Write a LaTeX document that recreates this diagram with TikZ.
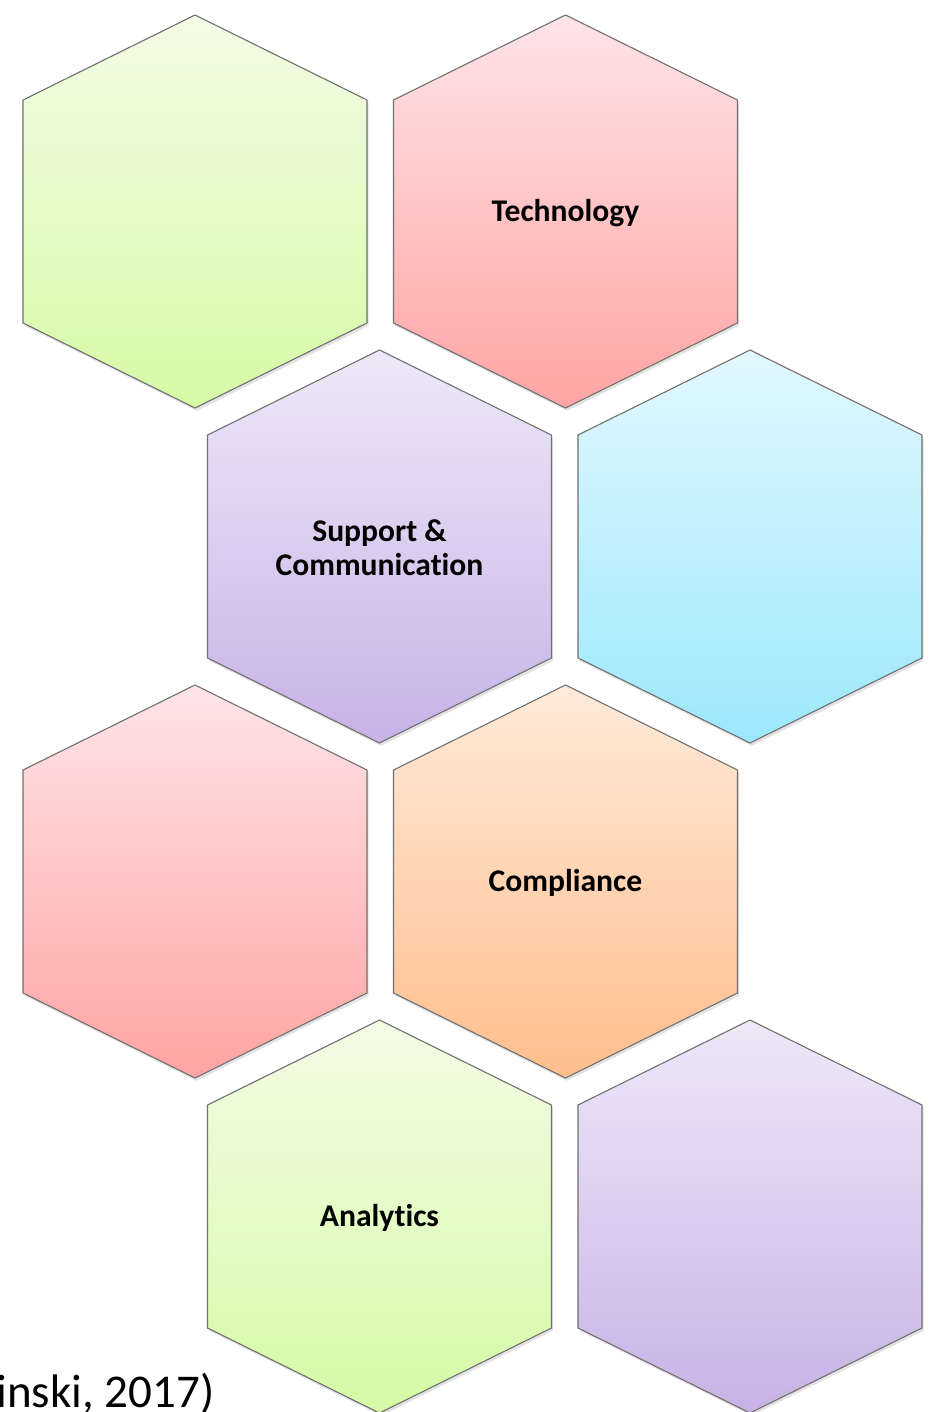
\documentclass[tikz,border=0pt]{standalone}
\usepackage{fontspec}
\setmainfont{Carlito}[Ligatures=NoCommon]
\usetikzlibrary{shadows}

\definecolor{hexline}{RGB}{112,112,112}
\definecolor{greentop}{RGB}{242,252,230}
\definecolor{greenbot}{RGB}{214,250,166}
\definecolor{redtop}{RGB}{255,228,230}
\definecolor{redbot}{RGB}{255,164,164}
\definecolor{purpletop}{RGB}{238,232,248}
\definecolor{purplebot}{RGB}{200,178,230}
\definecolor{bluetop}{RGB}{226,248,254}
\definecolor{bluebot}{RGB}{156,232,252}
\definecolor{orangetop}{RGB}{255,234,218}
\definecolor{orangebot}{RGB}{255,190,140}

\tikzset{
	hexstyle/.style={draw=hexline, line width=0.55pt,
		drop shadow={opacity=0.22, shadow xshift=0.8pt, shadow yshift=-1.4pt}},
	hexlabel/.style={font=\fontsize{15.8}{17}\selectfont\bfseries, align=center, inner sep=0pt},
	citelabel/.style={font=\fontsize{23.5}{28}\selectfont, anchor=base west, inner sep=0pt},
}

% centre x, centre y, colour
\newcommand{\hexcell}[3]{%
	\shade[hexstyle, top color=#3top, bottom color=#3bot]
		(#1,#2-196.5) -- ++(172,85) -- ++(0,223) -- ++(-172,85) -- ++(-172,-85) -- ++(0,-223) -- cycle;
}

\begin{document}
\begin{tikzpicture}[x=0.5pt, y=-0.5pt]
		\useasboundingbox (0,0) rectangle (937,1412);
		\clip (0,0) rectangle (937,1412);
		\fill[white] (0,0) rectangle (937,1412);

		% row 1
		\hexcell{195}{211.5}{green}
		\hexcell{565.5}{211.5}{red}
		\node[hexlabel] (tech) at (565.5, 213) {Technology};

		% row 2
		\hexcell{379.5}{546.5}{purple}
		\hexcell{750}{546.5}{blue}
		\node[hexlabel] (supp) at (379.5, 548) {Support \&\\Communication};

		% row 3
		\hexcell{195}{881.5}{red}
		\hexcell{565.5}{881.5}{orange}
		\node[hexlabel] (compl) at (565.5, 883) {Compliance};

		% row 4
		\hexcell{379.5}{1216.5}{green}
		\hexcell{750}{1216.5}{purple}
		\node[hexlabel] (anal) at (379.5, 1218) {Analytics};

		\node[citelabel] (cite) at (-4, 1407) {inski, 2017)};
	\end{tikzpicture}
\end{document}
